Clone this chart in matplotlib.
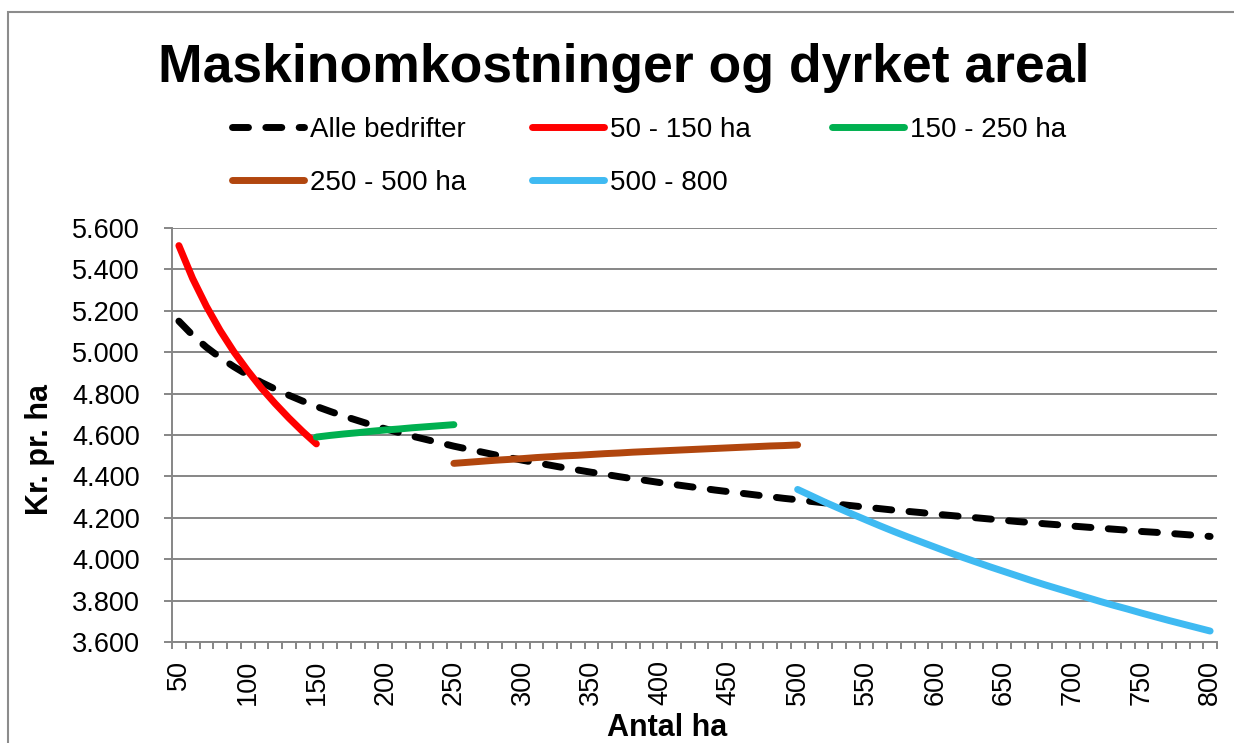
import numpy as np
import matplotlib
matplotlib.use("Agg")
import matplotlib.pyplot as plt
from matplotlib.patches import Rectangle
from matplotlib.ticker import FuncFormatter

plt.rcParams['font.family'] = ['Liberation Sans', 'DejaVu Sans']

# Data (kr. pr. ha)
ha_all = list(range(50, 801, 10))
alle = [5150, 5082, 5024, 4974, 4930, 4890, 4854, 4822, 4792, 4764,
        4738, 4714, 4691, 4670, 4649, 4630, 4612, 4594, 4578, 4562,
        4546, 4532, 4518, 4504, 4491, 4478, 4466, 4454, 4442, 4431,
        4420, 4410, 4399, 4389, 4380, 4370, 4361, 4352, 4343, 4334,
        4326, 4318, 4310, 4302, 4294, 4287, 4279, 4272, 4265, 4258,
        4251, 4244, 4237, 4231, 4225, 4218, 4212, 4206, 4200, 4194,
        4188, 4182, 4177, 4171, 4166, 4160, 4155, 4150, 4145, 4140,
        4134, 4130, 4125, 4120, 4115, 4110]

ha_50_150 = list(range(50, 151, 10))
g_50_150 = [5515, 5356, 5222, 5105, 5002, 4911, 4827, 4752, 4682, 4617, 4557]

ha_150_250 = list(range(150, 251, 10))
g_150_250 = [4590, 4598, 4605, 4611, 4618, 4624, 4629, 4635, 4640, 4645, 4650]

ha_250_500 = list(range(250, 501, 10))
g_250_500 = [4463, 4468, 4473, 4478, 4482, 4486, 4491, 4495, 4499, 4502,
             4506, 4510, 4513, 4517, 4520, 4523, 4526, 4529, 4532, 4535,
             4538, 4541, 4544, 4547, 4549, 4552]

ha_500_800 = list(range(500, 801, 10))
g_500_800 = [4337, 4306, 4275, 4246, 4217, 4189, 4161, 4134, 4108, 4083,
             4058, 4033, 4009, 3986, 3963, 3941, 3919, 3897, 3876, 3856,
             3836, 3816, 3796, 3777, 3759, 3740, 3722, 3704, 3687, 3670,
             3653]

x_labels = list(range(50, 801, 50))
y_ticks = list(range(3600, 5601, 200))

W, H = 1234, 743
fig = plt.figure(figsize=(W / 100, H / 100), dpi=100)
ax = fig.add_axes([172 / W, 1 - 642 / H, 1045 / W, 414 / H])

grey = '#868686'
lw = 5

l_alle, = ax.plot(ha_all, alle, color='black', lw=lw, dashes=(2.3, 2.5),
                  dash_capstyle='round', label='Alle bedrifter')
l1, = ax.plot(ha_50_150, g_50_150, color='#FF0000', lw=lw,
              solid_capstyle='round', label='50 - 150 ha')
l2, = ax.plot(ha_150_250, g_150_250, color='#00B050', lw=lw,
              solid_capstyle='round', label='150 - 250 ha')
l3, = ax.plot(ha_250_500, g_250_500, color='#B1460E', lw=lw,
              solid_capstyle='round', label='250 - 500 ha')
l4, = ax.plot(ha_500_800, g_500_800, color='#3FBAF2', lw=lw,
              solid_capstyle='round', label='500 - 800')

# y axis
ax.set_ylim(3600, 5600)
ax.set_yticks(y_ticks)
ax.yaxis.set_major_formatter(FuncFormatter(lambda v, p: f"{v:,.0f}".replace(',', '.')))
ax.grid(axis='y', color=grey, lw=1.4)
ax.set_axisbelow(True)
ax.tick_params(axis='y', length=6, width=1.4, color=grey, pad=17, labelsize=19.5)

# x axis: category-like ticks between every 10 ha
ax.set_xlim(45, 805)
ax.set_xticks(np.arange(45, 806, 10))
ax.set_xticklabels([])
ax.set_xticks(x_labels, minor=True)
ax.set_xticklabels([str(v) for v in x_labels], minor=True, rotation=90)
ax.tick_params(axis='x', which='major', length=5, width=1.4, color=grey)
ax.tick_params(axis='x', which='minor', length=0, pad=13, labelsize=19.5)

for s in ['top', 'right']:
    ax.spines[s].set_visible(False)
for s in ['left', 'bottom']:
    ax.spines[s].set_color(grey)
    ax.spines[s].set_linewidth(1.4)

ax.set_ylabel('Kr. pr. ha', fontsize=22, fontweight='bold')
ax.yaxis.label.set_va('center')
ax.yaxis.set_label_coords(-0.126, 0.464)
ax.set_xlabel('Antal ha', fontsize=22, fontweight='bold')
ax.xaxis.label.set_va('center')
ax.xaxis.set_label_coords(0.474, -0.207)

fig.text(624 / W, 1 - 82 / H, 'Maskinomkostninger og dyrket areal',
         fontsize=38.5, fontweight='bold', ha='center', va='baseline')

# legend entries placed like the Excel legend (row-wise)
legend_pos = [(l_alle, 232, 130), (l1, 532, 130), (l2, 832, 130),
              (l3, 232, 183), (l4, 532, 183)]
for h, px, py in legend_pos:
    fig.legend(handles=[h], loc='center left', bbox_to_anchor=(px / W, 1 - py / H),
               frameon=False, borderpad=0, borderaxespad=0, fontsize=20,
               handlelength=2.6, handletextpad=0.2)

# outer chart frame
fig.patches.append(Rectangle((8 / W, -0.1), 1.2, 1 - 12 / H + 0.1,
                             transform=fig.transFigure, fill=False,
                             ec='#8c8c8c', lw=1.5))

fig.savefig('out.png', dpi=100)
